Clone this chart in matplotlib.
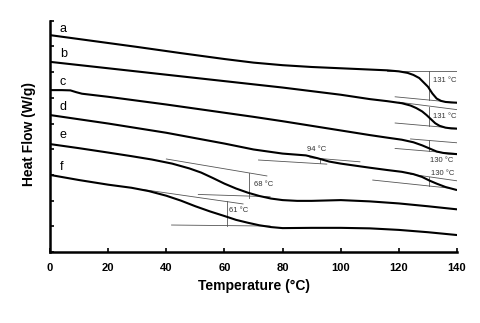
import numpy as np
import matplotlib
matplotlib.use('Agg')
import matplotlib.pyplot as plt

plt.rcParams['font.family'] = ['Liberation Sans', 'DejaVu Sans']

# DSC curves, heat flow (offset, arbitrary units) vs temperature
a_x = [0, 15, 30, 45, 60, 70, 80, 90, 100, 110, 116, 120, 123, 125, 127, 128.5, 130, 131.5, 133, 134.5, 136, 138, 140]
a_y = [8.44, 8.21, 7.98, 7.74, 7.51, 7.37, 7.27, 7.20, 7.15, 7.10, 7.07, 7.03, 6.97, 6.89, 6.77, 6.60, 6.43, 6.17, 5.97, 5.88, 5.84, 5.82, 5.81]

b_x = [0, 20, 40, 60, 80, 100, 110, 116, 121, 124, 126, 128, 129.5, 131, 132.5, 134, 136, 138, 140]
b_y = [7.40, 7.15, 6.90, 6.65, 6.40, 6.12, 5.95, 5.87, 5.79, 5.70, 5.60, 5.47, 5.33, 5.17, 5.01, 4.91, 4.84, 4.81, 4.80]

c_x = [0, 4, 7, 9, 11, 14, 20, 30, 40, 50, 60, 70, 80, 90, 100, 110, 116, 121, 125, 128, 130.5, 133, 135, 137, 140]
c_y = [6.30, 6.30, 6.29, 6.22, 6.16, 6.12, 6.04, 5.89, 5.74, 5.58, 5.42, 5.26, 5.09, 4.91, 4.73, 4.55, 4.45, 4.37, 4.27, 4.15, 4.03, 3.91, 3.86, 3.83, 3.81]

d_x = [0, 20, 40, 60, 70, 80, 88, 92, 96, 100, 105, 110, 116, 121, 125, 128, 130.5, 133, 136, 140]
d_y = [5.33, 5.00, 4.64, 4.22, 3.99, 3.83, 3.76, 3.65, 3.52, 3.44, 3.36, 3.28, 3.19, 3.12, 3.03, 2.92, 2.78, 2.66, 2.53, 2.41]

e_x = [0, 10, 20, 28, 35, 42, 48, 52, 56, 60, 64, 68, 72, 76, 80, 85, 90, 100, 110, 120, 130, 140]
e_y = [4.20, 4.04, 3.87, 3.73, 3.60, 3.44, 3.25, 3.09, 2.88, 2.66, 2.47, 2.31, 2.18, 2.08, 2.02, 1.99, 1.99, 2.02, 1.97, 1.89, 1.78, 1.66]

f_x = [0, 10, 20, 28, 34, 40, 45, 50, 55, 60, 64, 68, 72, 76, 80, 90, 100, 110, 120, 130, 140]
f_y = [3.00, 2.80, 2.62, 2.50, 2.37, 2.19, 2.00, 1.78, 1.58, 1.40, 1.25, 1.14, 1.04, 0.97, 0.93, 0.94, 0.94, 0.92, 0.86, 0.77, 0.66]

curve_names = ['a', 'b', 'c', 'd', 'e', 'f']
name_y = [8.57, 7.58, 6.50, 5.53, 4.42, 3.19]

# tangent constructions: (x0, y0, x1, y1)
tangents = [
    (115.8, 7.05, 140, 7.05), (118.7, 6.04, 140, 5.81), (130.5, 7.05, 130.5, 5.93),
    (120, 5.83, 140, 5.54), (118.7, 5.02, 140, 4.81), (130.5, 5.66, 130.5, 4.92),
    (124, 4.40, 140, 4.25), (118.7, 4.03, 140, 3.83), (130.5, 4.36, 130.5, 3.94),
    (124, 3.03, 140, 2.77), (111, 2.80, 137, 2.49), (130.5, 2.91, 130.5, 2.55),
    (71.7, 3.58, 95.2, 3.42), (89.4, 3.67, 106.6, 3.51), (92.9, 3.67, 92.9, 3.46),
    (40, 3.62, 74.6, 2.96), (51.0, 2.24, 75.7, 2.15), (68.5, 3.06, 68.5, 2.11),
    (32, 2.43, 66.4, 1.87), (41.8, 1.05, 75.7, 1.01), (60.8, 1.97, 60.8, 1.01),
]

# transition temperature labels
tg_labels = ['131 °C', '131 °C', '130 °C', '130 °C', '94 °C', '68 °C', '61 °C']
tg_x = [135.7, 135.7, 134.8, 135.0, 91.7, 73.6, 65.0]
tg_y = [6.67, 5.29, 3.58, 3.06, 3.97, 2.63, 1.60]

fig = plt.figure(figsize=(4.8, 3.23), dpi=100)
ax = fig.add_axes([0.1042, 0.2198, 0.848, 0.716])

for (x0, y0, x1, y1) in tangents:
    ax.plot([x0, x1], [y0, y1], color='#555555', lw=0.6, zorder=2)

curves = [(a_x, a_y), (b_x, b_y), (c_x, c_y), (d_x, d_y), (e_x, e_y), (f_x, f_y)]
for cx, cy in curves:
    ax.plot(cx, cy, color='black', lw=1.5, zorder=3, solid_capstyle='butt')

for name, ny in zip(curve_names, name_y):
    ax.text(3.4, ny, name, fontsize=9, ha='left', va='baseline')

for lab, tx, ty in zip(tg_labels, tg_x, tg_y):
    ax.text(tx, ty, lab, fontsize=5.5, color='#333333', ha='center', va='center')

ax.set_xlim(0, 140)
ax.set_ylim(0, 9)
ax.set_xticks(np.arange(0, 141, 20))
ax.set_yticks(np.arange(0, 10, 1))
ax.set_yticklabels([])
ax.tick_params(direction='in', length=3, width=1.2)
ax.tick_params(axis='x', pad=8, labelsize=8)
for lbl in ax.get_xticklabels():
    lbl.set_fontweight('bold')

ax.spines['top'].set_visible(False)
ax.spines['right'].set_visible(False)
ax.spines['left'].set_linewidth(1.8)
ax.spines['bottom'].set_linewidth(1.8)

ax.set_xlabel('Temperature (°C)', fontsize=10, fontweight='bold')
ax.set_ylabel('Heat Flow (W/g)', fontsize=10, fontweight='bold')
ax.xaxis.set_label_coords(0.5, -0.115)
ax.yaxis.set_label_coords(-0.035, 0.51)

fig.savefig('out.png', dpi=100)
